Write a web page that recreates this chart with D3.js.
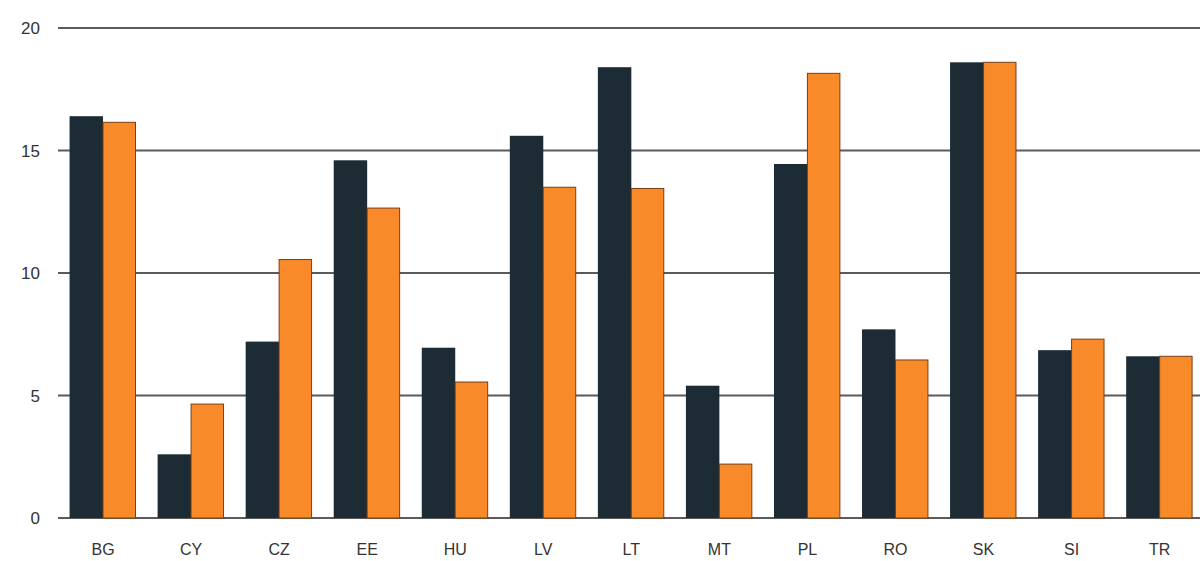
<!DOCTYPE html>
<html><head><meta charset="utf-8">
<script src="https://cdn.jsdelivr.net/npm/d3@7"></script>
<style>body{margin:0;background:#fff}svg{display:block}</style>
</head><body>
<svg id="c" width="1200" height="561"></svg>
<script>
const categories = ["BG","CY","CZ","EE","HU","LV","LT","MT","PL","RO","SK","SI","TR"];
const seriesDark = [16.4,2.6,7.2,14.6,6.95,15.6,18.4,5.4,14.45,7.7,18.6,6.85,6.6];
const seriesOrange = [16.15,4.65,10.55,12.65,5.55,13.5,13.45,2.2,18.15,6.45,18.6,7.3,6.6];
const yTicks = [0,5,10,15,20];

const svg = d3.select("#c");
const x0 = 59, x1 = 59 + 13*88.05;
const y = d3.scaleLinear().domain([0,20]).range([518,28]);
const x = d3.scaleBand().domain(categories).range([x0,x1]).paddingInner(0.24).paddingOuter(0.12);
const xs = d3.scaleBand().domain(["d","o"]).range([0,x.bandwidth()]);

// gridlines
svg.append("g").selectAll("line").data(yTicks).join("line")
  .attr("x1",58).attr("x2",1200)
  .attr("y1",d=>y(d)).attr("y2",d=>y(d))
  .attr("stroke","#5a5a5a").attr("stroke-width",1.8);

svg.append("g").selectAll("text").data(yTicks).join("text")
  .attr("x",40).attr("y",d=>y(d)+6)
  .attr("text-anchor","end")
  .attr("font-family","Liberation Sans, Arial, sans-serif")
  .attr("font-size",17).attr("fill","#333")
  .text(d=>d);

const g = svg.append("g");
g.selectAll("rect.d").data(categories).join("rect").attr("class","d")
  .attr("x",c=>x(c)+xs("d")).attr("width",xs.bandwidth())
  .attr("y",(c,i)=>y(seriesDark[i])).attr("height",(c,i)=>y(0)-y(seriesDark[i]))
  .attr("fill","#1c2b34");
g.selectAll("rect.o").data(categories).join("rect").attr("class","o")
  .attr("x",c=>x(c)+xs("o")).attr("width",xs.bandwidth()-1)
  .attr("y",(c,i)=>y(seriesOrange[i])).attr("height",(c,i)=>y(0)-y(seriesOrange[i]))
  .attr("fill","#f88a2a").attr("stroke","#7a3e14").attr("stroke-width",1);

svg.append("g").selectAll("text").data(categories).join("text")
  .attr("x",c=>x(c)+x.bandwidth()/2).attr("y",555)
  .attr("text-anchor","middle")
  .attr("font-family","Liberation Sans, Arial, sans-serif")
  .attr("font-size",16).attr("fill","#333")
  .text(c=>c);
</script>
</body></html>
